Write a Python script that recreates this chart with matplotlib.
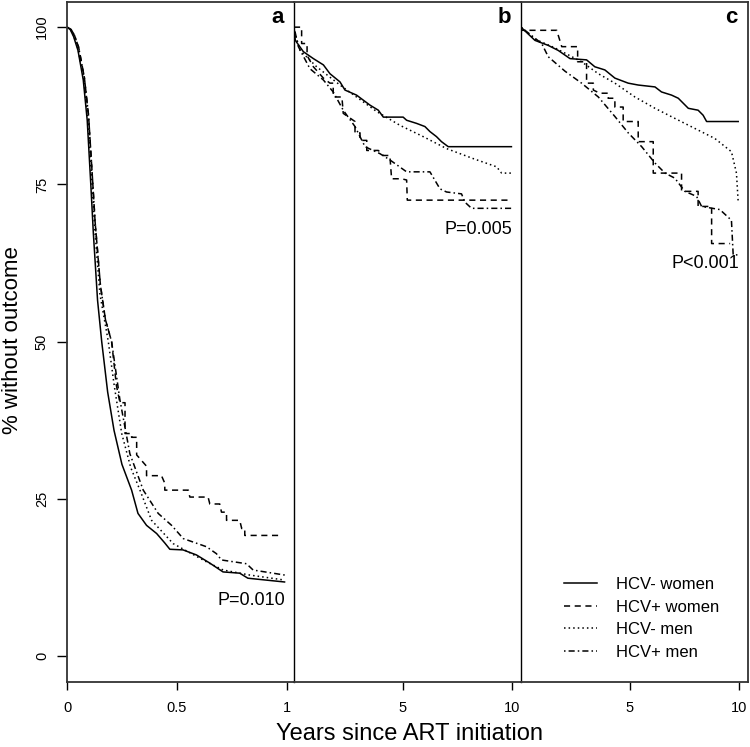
import matplotlib
matplotlib.use("Agg")
import matplotlib.pyplot as plt

plt.rcParams['font.family'] = ['Liberation Sans', 'DejaVu Sans']

# panel a: first year (years, % without outcome)
a_negw_t = [0, 0.015, 0.03, 0.05, 0.074, 0.092, 0.108, 0.12, 0.139, 0.158, 0.185, 0.214, 0.25, 0.294,
            0.323, 0.362, 0.408, 0.445, 0.468, 0.528, 0.589, 0.65, 0.71, 0.786, 0.823, 0.99]
a_negw_v = [100, 99.6, 98.5, 96.3, 91.6, 85.2, 75.2, 67.2, 56.6, 50, 42, 35.9, 30.5, 26.4,
            22.7, 20.8, 19.5, 18.0, 17.0, 16.9, 16.1, 14.8, 13.4, 13.2, 12.4, 11.8]
a_posw_t = [0, 0.017, 0.033, 0.053, 0.079, 0.098, 0.115, 0.128, 0.152, 0.175, 0.203, 0.225, 0.241,
            0.264, 0.264, 0.294, 0.294, 0.317, 0.317, 0.362, 0.362, 0.43, 0.445, 0.445, 0.552,
            0.559, 0.642, 0.65, 0.695, 0.703, 0.726, 0.726, 0.786, 0.795, 0.809, 0.809, 0.976]
a_posw_v = [100, 99.7, 98.8, 96.8, 92, 86, 76.5, 69, 59, 53.5, 50, 43, 40.3,
            40.3, 35.4, 35.4, 34.8, 34.8, 32.0, 30.2, 28.7, 28.7, 27.5, 26.4, 26.4,
            25.3, 25.3, 24.2, 24.2, 22.9, 22.9, 21.6, 21.6, 20.3, 20.3, 19.2, 19.2]
a_negm_t = [0, 0.015, 0.03, 0.05, 0.076, 0.095, 0.112, 0.126, 0.15, 0.188, 0.215, 0.249, 0.29, 0.332,
            0.385, 0.483, 0.567, 0.635, 0.711, 0.832, 0.991]
a_negm_v = [100, 99.7, 98.7, 96.6, 91.8, 85.5, 76, 68, 57.5, 50, 43, 35.4, 30, 26.4,
            21.6, 17.9, 16.3, 15.0, 13.7, 12.9, 12.1]
a_posm_t = [0, 0.017, 0.033, 0.053, 0.079, 0.098, 0.115, 0.128, 0.152, 0.175, 0.203, 0.241, 0.286,
            0.347, 0.415, 0.476, 0.529, 0.635, 0.68, 0.703, 0.817, 0.847, 0.991]
a_posm_v = [100, 99.7, 98.8, 96.8, 92, 86, 76.5, 69, 59, 53.5, 50, 40.7, 32.2,
            26.4, 22.7, 20.8, 18.7, 17.4, 16.3, 15.3, 14.7, 13.7, 12.9]

# panel b: 10 years
b_negw_t = [0, 0.06, 0.43, 0.89, 1.35, 1.65, 2.11, 2.34, 2.87, 3.49, 3.87, 4.10, 5.01, 5.17,
            5.63, 6.01, 6.24, 6.54, 6.77, 7.08, 9.98]
b_negw_v = [100, 97.9, 96.1, 95.0, 94.0, 92.6, 91.3, 90.0, 89.2, 87.6, 86.8, 85.7, 85.7, 85.2,
            84.7, 84.2, 83.4, 82.6, 81.8, 81.0, 81.0]
b_posw_t = [0, 0.35, 0.35, 0.6, 0.6, 0.89, 1.35, 1.65, 1.8, 1.8, 2.2, 2.26, 2.8, 2.8, 3.03, 3.03,
            3.34, 3.34, 3.87, 4.1, 4.4, 4.48, 4.94, 5.17, 5.2, 9.83]
b_posw_v = [100, 100, 97.4, 97.4, 95.5, 93.7, 91.9, 91.1, 91.1, 88.9, 88.9, 86.3, 85.0, 83.2, 83.2, 82.0,
            82.0, 80.4, 80.4, 79.6, 79.6, 75.9, 75.9, 75.7, 72.5, 72.5]
b_negm_t = [0, 0.05, 0.28, 1.04, 2.11, 2.87, 3.79, 4.86, 5.93, 7.0, 8.23, 9.3, 9.53, 9.98]
b_negm_v = [100, 99.0, 96.3, 93.7, 90.8, 88.9, 86.6, 84.4, 82.6, 80.7, 79.1, 77.8, 76.8, 76.8]
b_posm_t = [0, 0.2, 0.73, 1.35, 1.8, 2.26, 2.8, 3.26, 3.94, 4.40, 5.17, 6.24, 6.70, 7.0, 7.69,
            7.84, 8.15, 9.98]
b_posm_v = [100, 96.9, 93.4, 91.6, 89.7, 86.8, 84.2, 81.0, 79.9, 78.9, 77.0, 77.0, 74.3, 73.8, 73.5,
            72.2, 71.2, 71.2]

# panel c: 10 years
c_negw_t = [0, 0.64, 1.25, 1.71, 2.25, 3.01, 3.39, 3.85, 4.31, 4.92, 5.38, 6.15, 6.45, 6.91, 7.22,
            7.45, 7.68, 8.13, 8.36, 8.52, 9.97]
c_negw_v = [100, 97.9, 97.1, 96.3, 95.0, 94.8, 93.7, 93.2, 91.9, 91.1, 90.8, 90.5, 89.7, 89.2, 88.7,
            87.9, 87.1, 86.8, 86.0, 85.0, 85.0]
c_posw_t = [0, 0.05, 1.64, 1.87, 2.6, 2.6, 3.01, 3.01, 3.32, 3.32, 3.62, 4.0, 4.0, 4.31, 4.31,
            4.69, 4.69, 5.38, 5.38, 6.07, 6.07, 7.37, 7.37, 8.13, 8.13, 8.75, 8.75, 9.6]
c_posw_v = [100, 99.5, 99.5, 96.9, 96.9, 94.5, 94.5, 91.1, 91.1, 90.0, 89.5, 89.5, 88.7, 88.7, 87.3,
            87.3, 85.0, 85.0, 81.8, 81.8, 76.8, 76.8, 73.9, 73.9, 71.5, 71.5, 65.6, 65.6]
c_negm_t = [0, 0.64, 1.56, 2.78, 3.55, 4.31, 5.23, 6.15, 7.06, 7.98, 8.9, 9.66, 9.89, 9.97]
c_negm_v = [100, 98.1, 96.7, 94.5, 92.6, 91.1, 88.9, 87.1, 85.5, 83.9, 82.3, 80.2, 76.8, 72.2]
c_posm_t = [0, 0.95, 1.25, 2.02, 2.78, 3.55, 4.31, 4.92, 5.54, 6.15, 6.61, 7.06, 7.52, 8.06, 8.29,
            9.13, 9.66, 9.74, 9.97]
c_posm_v = [100, 97.4, 95.3, 93.0, 91.1, 88.9, 85.8, 83.2, 81.0, 78.4, 76.8, 76.0, 73.9, 73.1, 71.5,
            71.0, 69.3, 63.8, 63.8]

labels = ['HCV- women', 'HCV+ women', 'HCV- men', 'HCV+ men']
styles = ['-', (0, (4, 3)), (0, (1, 2)), (0, (1, 2, 4, 2))]
panel_letters = ['a', 'b', 'c']
p_values = ['P=0.010', 'P=0.005', 'P<0.001']
p_ypos = [8.9, 67.9, 62.5]
x_ticks = [[0, 0.5, 1], [5, 10], [5, 10]]
x_ticklabels = [['0', '0.5', '1'], ['5', '10'], ['5', '10']]
x_max = [1.033, 10.42, 10.42]

panels = [
    [(a_negw_t, a_negw_v), (a_posw_t, a_posw_v), (a_negm_t, a_negm_v), (a_posm_t, a_posm_v)],
    [(b_negw_t, b_negw_v), (b_posw_t, b_posw_v), (b_negm_t, b_negm_v), (b_posm_t, b_posm_v)],
    [(c_negw_t, c_negw_v), (c_posw_t, c_posw_v), (c_negm_t, c_negm_v), (c_posm_t, c_posm_v)],
]

fig = plt.figure(figsize=(7.5, 7.47), dpi=100)
W, H = 750, 747
left, pw = 67, 227
bottom, top = 682, 2

axes = []
for i in range(3):
    ax = fig.add_axes([(left + i * pw) / W, (H - bottom) / H, pw / W, (bottom - top) / H])
    ax.patch.set_visible(False)
    axes.append(ax)
    for (t, v), ls, lab in zip(panels[i], styles, labels):
        ax.plot(t, v, color='black', linestyle=ls, linewidth=1.1, label=lab)
    ax.set_xlim(0, x_max[i])
    ax.set_ylim(-4.1, 104)
    ax.set_xticks(x_ticks[i])
    ax.set_xticklabels(x_ticklabels[i])
    ax.tick_params(axis='x', direction='out', length=6, width=1, pad=8, labelsize=10.5)
    for side in ['top', 'bottom', 'left', 'right']:
        ax.spines[side].set_color('#333333')
        ax.spines[side].set_linewidth(1.3)
    if i > 0:
        ax.spines['left'].set_visible(False)
        ax.set_yticks([])
    if i < 2:
        ax.spines['right'].set_color('black')
        ax.spines['right'].set_linewidth(1.0)
    ax.text(x_max[i] * 0.955, 101.6, panel_letters[i], ha='right', va='center',
            fontsize=16, fontweight='bold')
    ax.text(x_max[i] * 0.96, p_ypos[i], p_values[i], ha='right', va='center', fontsize=13)

ax = axes[0]
ax.set_yticks([0, 25, 50, 75, 100])
ax.set_yticklabels(['0', '25', '50', '75', '100'], rotation=90, va='center')
ax.tick_params(axis='y', direction='out', length=7, width=1, pad=6, labelsize=10.5)

axes[2].legend(loc='lower left', bbox_to_anchor=(0.19, 0.033), frameon=False, fontsize=12,
               handlelength=2.0, handletextpad=1.1, labelspacing=0.45, borderpad=0,
               borderaxespad=0)

fig.text(13 / W, 1 - 340 / H, '% without outcome', rotation=90, ha='center', va='center',
         fontsize=16)
fig.text(410 / W, 7 / H, 'Years since ART initiation', ha='center', va='baseline', fontsize=17)

fig.savefig('out.png', dpi=100)
